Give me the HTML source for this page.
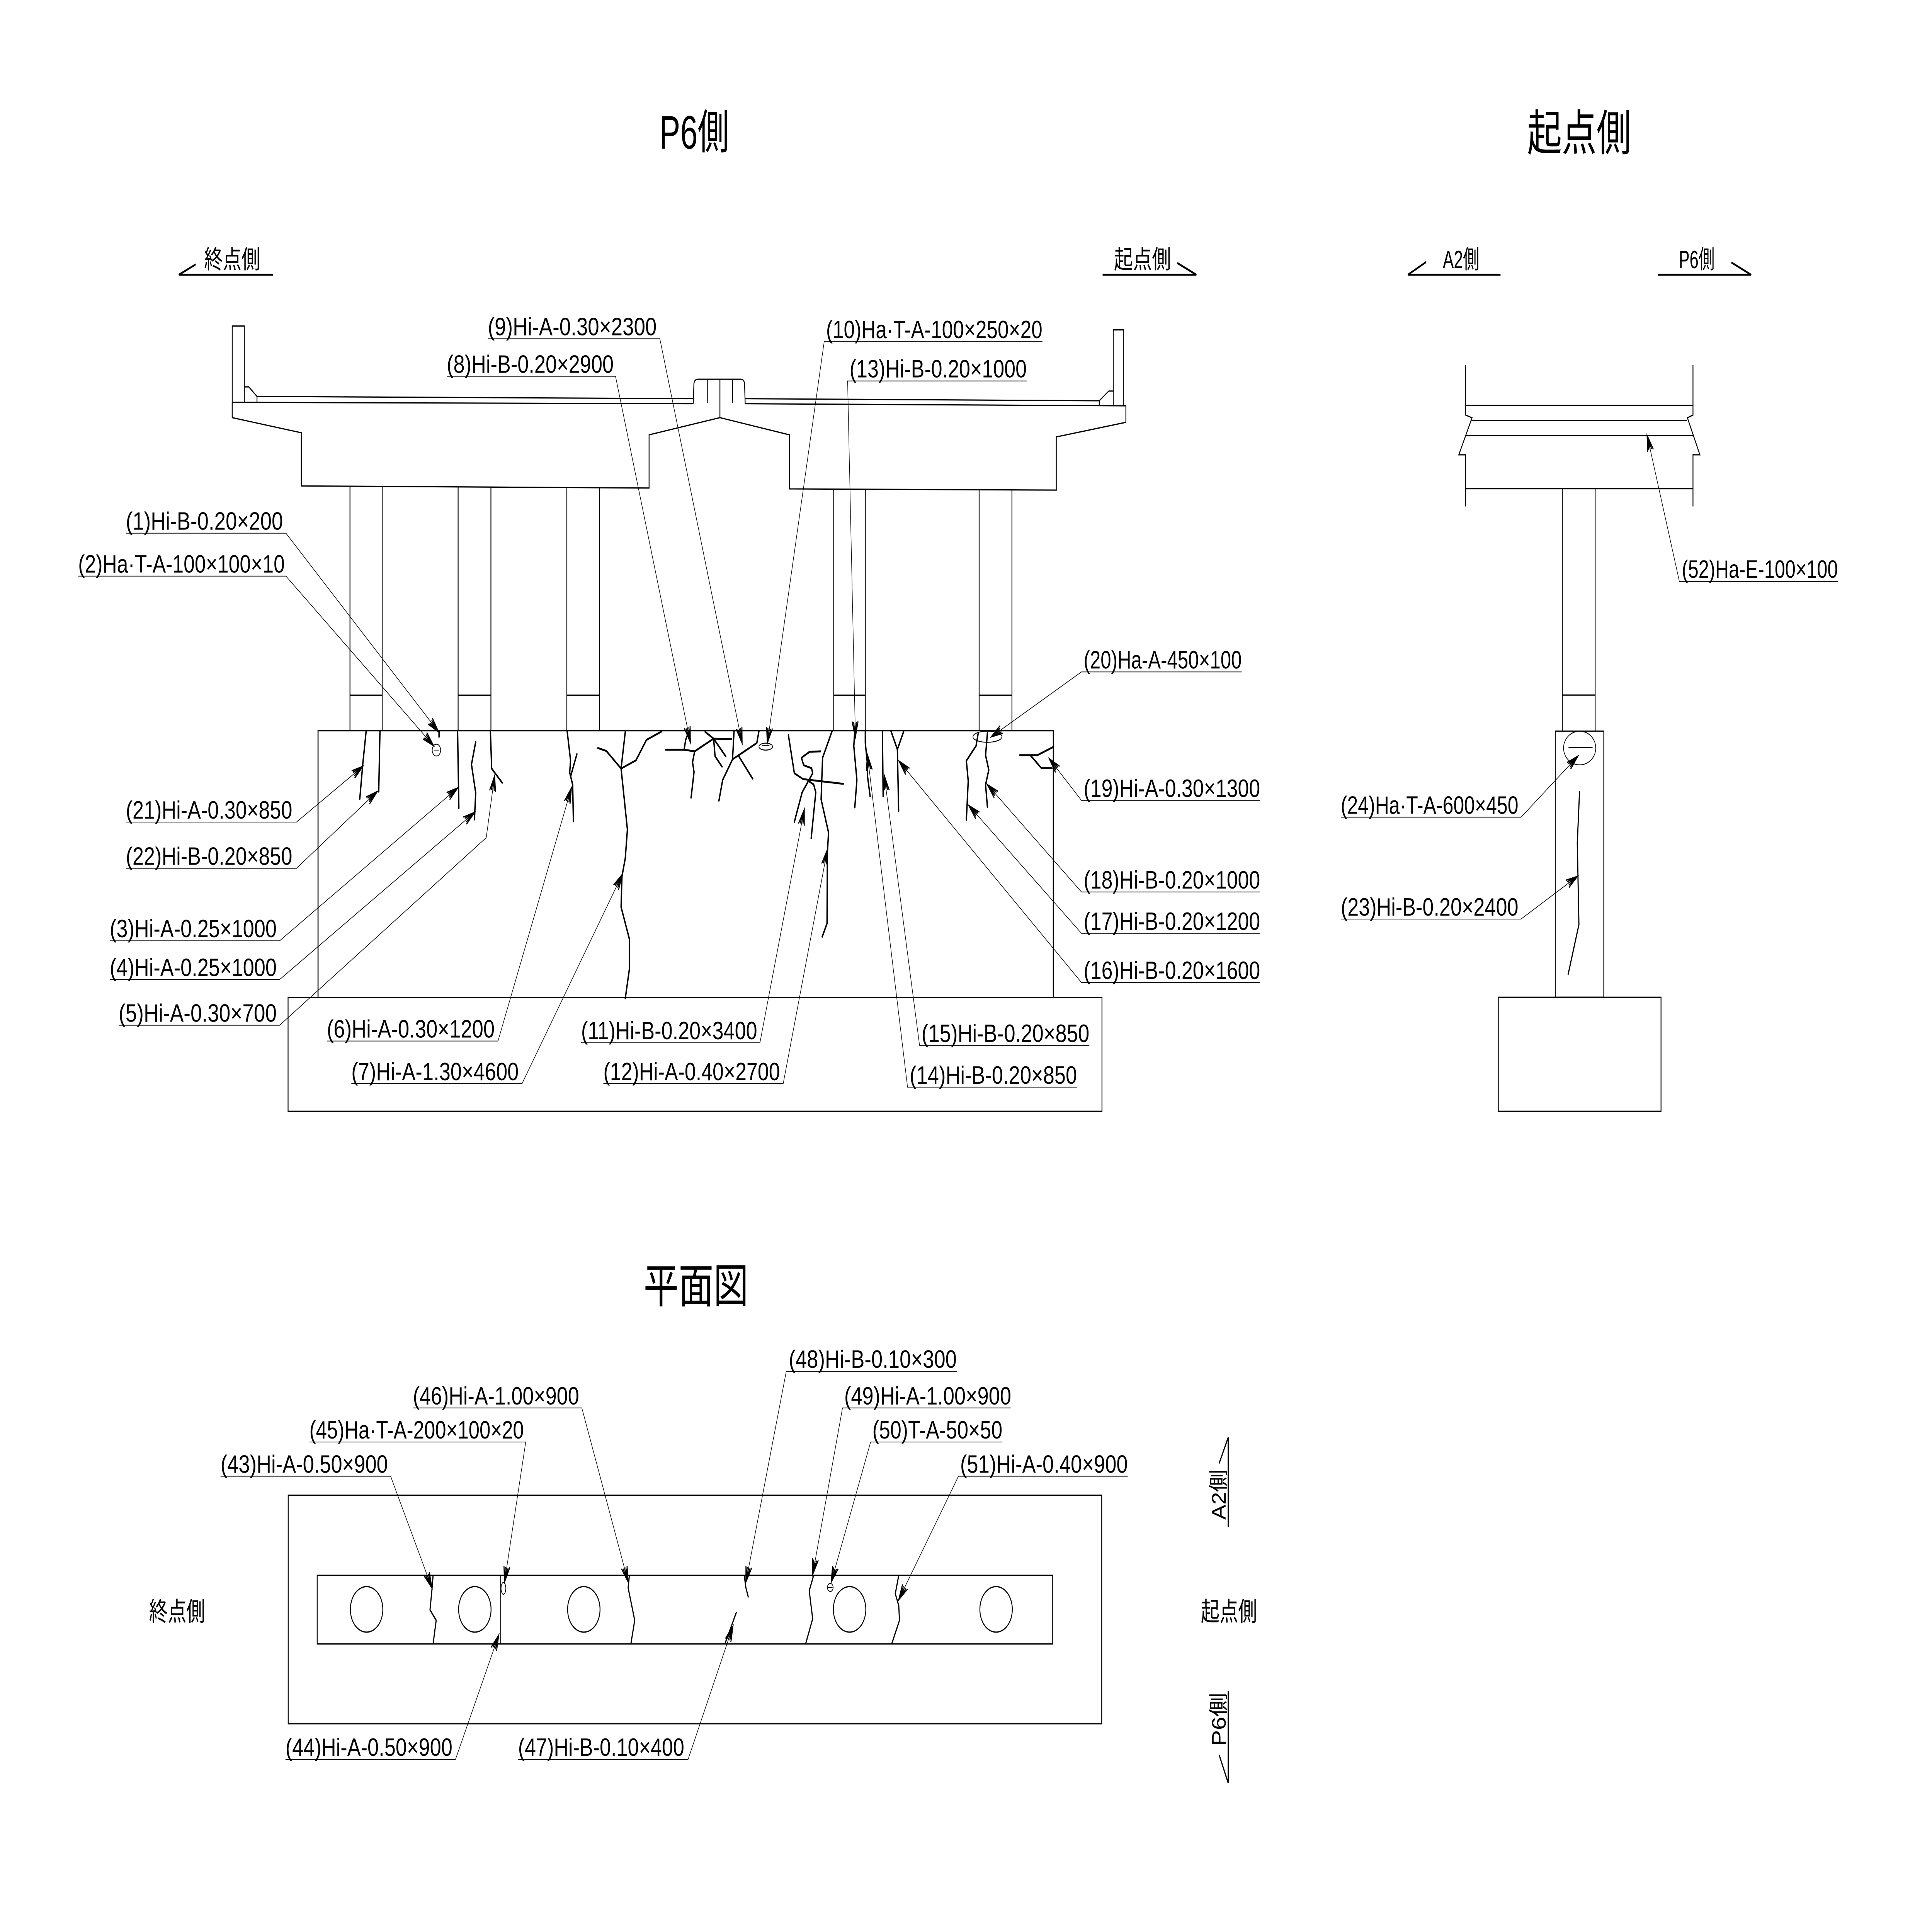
<!DOCTYPE html>
<html><head><meta charset="utf-8"><style>
html,body{margin:0;padding:0;background:#fff;width:100%;height:100%;overflow:hidden;}
svg{position:absolute;left:0;top:0;width:100vw;height:100vh;display:block;}
text{font-family:"Liberation Sans","Noto Sans CJK JP",sans-serif;fill:#000;}
.lb{font-size:14.5px;}
.o{fill:none;stroke:#000;stroke-width:0.7;stroke-linejoin:miter;}
.c{fill:none;stroke:#000;stroke-width:1.1;stroke-linejoin:round;stroke-linecap:round;}
.cp{fill:none;stroke:#000;stroke-width:0.9;stroke-linejoin:round;}
.l{fill:none;stroke:#000;stroke-width:0.42;}
.d{fill:none;stroke:#000;stroke-width:1.1;}
</style></head><body>
<svg xmlns="http://www.w3.org/2000/svg" width="100%" height="100%" viewBox="0 0 1560 1103" preserveAspectRatio="none">
<defs>
<marker id="a" markerUnits="userSpaceOnUse" markerWidth="12" markerHeight="8" refX="10" refY="4" orient="auto" viewBox="0 0 12 8">
<path d="M1,1.6 L10,4 L1,6.4 M2,4 L10,4 M1.5,2.8 L10,4 L1.5,5.2" fill="none" stroke="#000" stroke-width="0.8"/>
</marker>
</defs>
<rect x="0" y="0" width="1560" height="1103" fill="#fff"/>

<!-- Titles -->
<text x="532.4" y="85.5" font-size="27" textLength="56.2" lengthAdjust="spacingAndGlyphs">P6側</text>
<text x="1233.1" y="86.5" font-size="28" textLength="84" lengthAdjust="spacingAndGlyphs">起点側</text>
<text x="519.7" y="749.5" font-size="27" textLength="84.6" lengthAdjust="spacingAndGlyphs">平面図</text>

<!-- Direction labels top -->
<text x="164.8" y="154.3" font-size="14.5" textLength="45.3" lengthAdjust="spacingAndGlyphs">終点側</text>
<polyline class="d" points="158,152.1 144.4,158.1 220.3,158.1"/>
<text x="899.5" y="154.3" font-size="14.5" textLength="46" lengthAdjust="spacingAndGlyphs">起点側</text>
<polyline class="d" points="890.3,158.1 966,158.1 950.6,151.3"/>
<text x="1165" y="154.3" font-size="14.5" textLength="29.6" lengthAdjust="spacingAndGlyphs">A2側</text>
<polyline class="d" points="1151.4,150.8 1136.8,158.1 1211.6,158.1"/>
<text x="1355.6" y="154.3" font-size="14.5" textLength="28.9" lengthAdjust="spacingAndGlyphs">P6側</text>
<polyline class="d" points="1338.6,158.1 1414,158.1 1398,151"/>

<!-- ===== Elevation: deck ===== -->
<polyline class="o" points="187.5,240.3 187.5,187.6 197.3,187.6 197.3,222.6 200.9,222.6 207.5,228.1 207.5,231.5"/>
<line class="o" x1="197.3" y1="222.6" x2="197.3" y2="231.5"/>
<line class="o" x1="207.5" y1="228.1" x2="559.8" y2="229.4"/>
<line class="o" x1="187.5" y1="231.5" x2="559.8" y2="232.3"/>
<line class="o" x1="601.7" y1="229.4" x2="887.6" y2="230.6"/>
<line class="o" x1="601.7" y1="232.3" x2="909.1" y2="233.5"/>
<polyline class="o" points="887.6,233.2 887.6,230.6 895.3,225 898.9,225 898.9,189.8 907,189.8 907,233.5"/>
<line class="o" x1="898.9" y1="225" x2="898.9" y2="233.2"/>
<polyline class="o" points="187.5,240.3 243.3,249 243.3,279.6 524.1,280.8 524.1,250.2 581.3,240.3 637.4,250.2 637.4,281.3 852.9,282 852.9,251.4 909.1,243 909.1,233.5"/>
<line class="o" x1="187.5" y1="240.3" x2="187.5" y2="231.5"/>
<path class="o" d="M559.8,232.3 L560.3,220.8 Q560.8,218.2 563.6,218.2 L598,218.2 Q600.8,218.2 601.2,220.8 L601.7,232.3"/>
<line class="o" x1="571.1" y1="218.4" x2="571.1" y2="232"/>
<line class="o" x1="591.5" y1="218.4" x2="591.5" y2="232"/>
<line class="o" x1="581.3" y1="218.4" x2="581.3" y2="240.3"/>

<!-- columns -->
<g class="o">
<line x1="282.6" y1="279.8" x2="282.6" y2="420.4"/><line x1="308.6" y1="279.9" x2="308.6" y2="420.4"/><line x1="282.6" y1="400" x2="308.6" y2="400"/>
<line x1="369.9" y1="280.1" x2="369.9" y2="420.4"/><line x1="396.4" y1="280.2" x2="396.4" y2="420.4"/><line x1="369.9" y1="400" x2="396.4" y2="400"/>
<line x1="457.7" y1="280.4" x2="457.7" y2="420.4"/><line x1="484.2" y1="280.5" x2="484.2" y2="420.4"/><line x1="457.7" y1="400" x2="484.2" y2="400"/>
<line x1="673.2" y1="281.5" x2="673.2" y2="420.4"/><line x1="698.7" y1="281.6" x2="698.7" y2="420.4"/><line x1="673.2" y1="400" x2="698.7" y2="400"/>
<line x1="790.6" y1="281.8" x2="790.6" y2="420.4"/><line x1="817.1" y1="281.9" x2="817.1" y2="420.4"/><line x1="790.6" y1="400" x2="817.1" y2="400"/>
</g>

<!-- footing -->
<rect class="o" x="256.8" y="420.4" width="593.7" height="153.5" style="stroke-width:0.8"/>
<rect class="o" x="232.6" y="573.9" width="657.2" height="65.5"/>

<!-- cracks elevation -->
<g class="c">
<polyline points="295.6,421 292.9,439.8 290.5,459.7"/>
<polyline points="306.8,421 305.8,455.5"/>
<polyline points="354.5,420.4 354.5,424"/>
<polyline points="369.5,421 370.5,465"/>
<polyline points="384.1,426.9 380.7,439.8 384.1,456.2 383.1,471.5"/>
<polyline points="396,421 397,442.2 405.5,450.4"/>
<polyline points="458,421 460.7,437.5 460,444.5 462.4,451.5 463,472.6"/>
<polyline points="465.8,433.9 460.7,446.8"/>
<polyline points="504.9,421 501.5,442.2 504.9,465.6 506.6,477.3 504.9,493.7 502.2,504.3 501.5,521.9 508.3,540.6 508.3,557.1 504.9,574.4"/>
<polyline points="482.8,430.4 489.6,432.1 501.5,442.2 513.5,437.5 522,425.7 533.9,421"/>
<polyline points="558,459 560.4,444.2 559.2,438.6 560.9,432.3"/>
<polyline points="537.6,431.4 552.4,431.4 560.9,432.3 576.2,425"/>
<polyline points="552.4,431.4 553.6,425.8 555.8,421.6"/>
<polyline points="569.4,421.1 576.2,425 590.7,425.3"/>
<polyline points="576.2,425 586,435.2"/>
<polyline points="576.2,425 577.4,435.2 583,441.1"/>
<polyline points="580.5,460.7 583.5,448.8 591.5,436.9 592.7,420.7"/>
<polyline points="591.5,436.9 611.1,427.5 612.8,420.7"/>
<polyline points="596.6,435.2 607.7,448"/>
<polyline points="636.6,423 641.4,444.9 648.5,448.3 680.9,451"/>
<polyline points="662.5,432.3 653.6,432.6 647.2,436 648.9,440.3 655.3,442 656.2,444.9 652.8,449.3 647.7,455.9 641.4,472.9"/>
<polyline points="652.8,449.3 657,451.4 658.7,455.9 655,482.3"/>
<polyline points="672,420.4 664.2,436 663,459.9 669,479 668.1,490.5 667.8,531.3 663.9,539"/>
<polyline points="690.2,420.4 689.4,429.2 691.9,448.8 690.2,464.6"/>
<polyline points="698.7,420.4 698.7,427.5 700.4,439.4 700.4,446.2 702.6,458.2"/>
<polyline points="712.5,420.4 713.1,458.2"/>
<polyline points="719.4,420.6 724.6,431.2 729.6,421"/>
<polyline points="724.6,431.2 725.6,466.6"/>
<polyline points="789.9,421.7 788.1,429.2 780.3,437.7 781.8,449.4 780.3,471.7"/>
<polyline points="797.3,421.7 795.8,434.5 798.4,443 795.8,451.5 797.3,464.3"/>
<polyline points="823.5,434.5 837.7,434.5 850.5,429.8"/>
<polyline points="832.4,434.9 840.9,442 849.4,442"/>
</g>
<ellipse class="l" cx="352.4" cy="431.6" rx="3.4" ry="3.4" style="stroke-width:0.5"/>
<line class="l" x1="350.5" y1="431.6" x2="354.3" y2="431.6"/>
<ellipse class="l" cx="618.3" cy="429.6" rx="5.5" ry="2" style="stroke-width:0.55"/>
<line class="l" x1="615.4" y1="429" x2="621.3" y2="429"/>
<ellipse class="l" cx="797.3" cy="423.9" rx="11.7" ry="3.2" style="stroke-width:0.5"/>

<!-- leaders elevation -->
<g class="l" marker-end="url(#a)">
<polyline points="101.6,306.8 230.9,306.8 354,421"/>
<polyline points="63.1,331.5 230.9,331.5 350,429"/>
<polyline points="101.6,473 239.4,473 292.9,441"/>
<polyline points="101.6,499.6 239.4,499.6 304.5,455.5"/>
<polyline points="88.6,541.3 225.8,541.3 369.5,453.4"/>
<polyline points="88.6,563.6 225.8,563.6 383.1,467.5"/>
<polyline points="95.8,589.9 225.8,589.9 392.6,482 399.4,446.4"/>
<polyline points="263.9,599 402.1,599 461.4,453.4"/>
<polyline points="283.7,623.5 421.5,623.5 502.5,503.1"/>
<polyline points="469.2,600 613.6,600 649.4,465.8"/>
<polyline points="487.2,623.5 632.4,623.5 668.1,488.8"/>
<polyline points="360.7,216.5 497,216.5 557.4,427"/>
<polyline points="393.9,194.9 532.8,194.9 599.2,427.5"/>
<polyline points="841.7,196.6 665.5,196.6 619.6,427.5"/>
<polyline points="829,219.2 684.4,219.2 690.7,424.1"/>
<polyline points="869.6,625.5 732.8,625.5 700.4,434.3"/>
<polyline points="879.6,601.5 742.5,601.5 714,446.2"/>
<polyline points="1017.5,565.3 873.2,565.3 726,438"/>
<polyline points="1017.5,537 873.2,537 782.3,463.5"/>
<polyline points="1017.5,513.2 873.2,513.2 797.3,451.5"/>
<polyline points="1017.5,460.5 873.2,460.5 847.3,436.6"/>
<polyline points="1002.6,386.6 873.2,386.6 800.5,423.9"/>
</g>

<g class="lb">
<text x="101.6" y="304.8" textLength="126.9" lengthAdjust="spacingAndGlyphs">(1)Hi-B-0.20×200</text>
<text x="63.1" y="329.5" textLength="166.8" lengthAdjust="spacingAndGlyphs">(2)Ha·T-A-100×100×10</text>
<text x="101.6" y="471" textLength="134.4" lengthAdjust="spacingAndGlyphs">(21)Hi-A-0.30×850</text>
<text x="101.6" y="497.6" textLength="134.4" lengthAdjust="spacingAndGlyphs">(22)Hi-B-0.20×850</text>
<text x="88.6" y="539.3" textLength="134.8" lengthAdjust="spacingAndGlyphs">(3)Hi-A-0.25×1000</text>
<text x="88.6" y="561.6" textLength="134.8" lengthAdjust="spacingAndGlyphs">(4)Hi-A-0.25×1000</text>
<text x="95.8" y="587.9" textLength="127.6" lengthAdjust="spacingAndGlyphs">(5)Hi-A-0.30×700</text>
<text x="263.9" y="597" textLength="135.5" lengthAdjust="spacingAndGlyphs">(6)Hi-A-0.30×1200</text>
<text x="283.7" y="621.5" textLength="135.1" lengthAdjust="spacingAndGlyphs">(7)Hi-A-1.30×4600</text>
<text x="469.2" y="598" textLength="142.2" lengthAdjust="spacingAndGlyphs">(11)Hi-B-0.20×3400</text>
<text x="487.2" y="621.5" textLength="142.6" lengthAdjust="spacingAndGlyphs">(12)Hi-A-0.40×2700</text>
<text x="360.7" y="214.5" textLength="134.8" lengthAdjust="spacingAndGlyphs">(8)Hi-B-0.20×2900</text>
<text x="393.9" y="192.9" textLength="136.3" lengthAdjust="spacingAndGlyphs">(9)Hi-A-0.30×2300</text>
<text x="667" y="194.6" textLength="174.7" lengthAdjust="spacingAndGlyphs">(10)Ha·T-A-100×250×20</text>
<text x="686" y="217.2" textLength="143" lengthAdjust="spacingAndGlyphs">(13)Hi-B-0.20×1000</text>
<text x="734.5" y="623.5" textLength="135.1" lengthAdjust="spacingAndGlyphs">(14)Hi-B-0.20×850</text>
<text x="744.1" y="599.5" textLength="135.5" lengthAdjust="spacingAndGlyphs">(15)Hi-B-0.20×850</text>
<text x="875" y="563.3" textLength="142.5" lengthAdjust="spacingAndGlyphs">(16)Hi-B-0.20×1600</text>
<text x="875" y="535" textLength="142.5" lengthAdjust="spacingAndGlyphs">(17)Hi-B-0.20×1200</text>
<text x="875" y="511.2" textLength="142.5" lengthAdjust="spacingAndGlyphs">(18)Hi-B-0.20×1000</text>
<text x="875" y="458.5" textLength="142.5" lengthAdjust="spacingAndGlyphs">(19)Hi-A-0.30×1300</text>
<text x="875" y="384.6" textLength="127.6" lengthAdjust="spacingAndGlyphs">(20)Ha-A-450×100</text>
</g>

<!-- ===== Side view ===== -->
<g class="o">
<polyline points="1183.4,210 1183.4,238.8 1188.6,240.4 1177.9,261.7 1183.4,261.7 1183.4,291.4"/>
<polyline points="1367,210 1367,238.8 1362.5,240.4 1372.6,261.7 1367,261.7 1367,291.4"/>
<line x1="1183.4" y1="233.3" x2="1367" y2="233.3"/>
<line x1="1188.2" y1="242" x2="1362.3" y2="242"/>
<line x1="1183.5" y1="250.6" x2="1366.9" y2="250.6"/>
<line x1="1183.4" y1="281.2" x2="1367" y2="281.2"/>
<line x1="1261.5" y1="281.2" x2="1261.5" y2="420.7"/>
<line x1="1288" y1="281.2" x2="1288" y2="420.7"/>
<line x1="1261.5" y1="399.9" x2="1288" y2="399.9"/>
<rect x="1255.8" y="420.7" width="39.2" height="153.1"/>
<rect x="1209.8" y="573.8" width="131.4" height="65.6"/>
</g>
<ellipse class="l" cx="1275.5" cy="430.4" rx="13" ry="9.7" style="stroke-width:0.5"/>
<line class="l" x1="1266.5" y1="430" x2="1285.9" y2="430" style="stroke-width:0.6"/>
<polyline class="c" points="1275.4,455.5 1273.6,485 1274.9,532 1266.2,560.6" style="stroke-width:0.9"/>
<g class="l" marker-end="url(#a)">
<polyline points="1484,334.5 1356,334.5 1330,250.6"/>
<polyline points="1082.6,470.2 1228.2,470.2 1273.9,435.2"/>
<polyline points="1082.6,528.8 1228.2,528.8 1273.6,504.3"/>
</g>
<g class="lb">
<text x="1358" y="332.5" textLength="126" lengthAdjust="spacingAndGlyphs">(52)Ha-E-100×100</text>
<text x="1082.6" y="468.2" textLength="143.4" lengthAdjust="spacingAndGlyphs">(24)Ha·T-A-600×450</text>
<text x="1082.6" y="526.8" textLength="143.4" lengthAdjust="spacingAndGlyphs">(23)Hi-B-0.20×2400</text>
</g>

<!-- ===== Plan ===== -->
<rect class="o" x="232.7" y="860.3" width="656.9" height="131.5"/>
<rect class="o" x="256.1" y="906.4" width="593.9" height="39.5"/>
<line class="o" x1="404.3" y1="906.4" x2="404.3" y2="945.9"/>
<g class="o">
<circle cx="296" cy="926" r="13.1"/>
<circle cx="383.4" cy="926" r="13.1"/>
<circle cx="471.4" cy="926" r="13.1"/>
<circle cx="686" cy="926" r="13.1"/>
<circle cx="804.3" cy="926" r="13.1"/>
</g>
<g class="cp">
<polyline points="349.7,906.4 348.7,915.3 347.2,926.3 352.2,932.3 349.7,945.9"/>
<polyline points="508.2,906.4 507.2,913.6 512.5,932.3 509.4,945.9"/>
<polyline points="600.9,906.4 602.3,913.6 604.3,919.2"/>
<polyline points="594.7,927.5 585.3,945.9"/>
<polyline points="657,906.4 653.4,915.3 656.2,931.4 650.5,945.9"/>
<polyline points="725.7,906.4 722.9,917 725.7,923.8 726.3,932.3 720,945.9"/>
</g>
<ellipse class="l" cx="406.5" cy="913.9" rx="1.9" ry="3.4" style="stroke-width:0.5"/>
<circle class="l" cx="670.4" cy="913.4" r="2.3" style="stroke-width:0.5"/>
<line class="l" x1="668.5" y1="913.4" x2="672.3" y2="913.4"/>
<g class="l" marker-end="url(#a)">
<polyline points="178.1,849.4 315.4,849.4 348.7,913.6"/>
<polyline points="230.5,1012.3 367.8,1012.3 402.7,940.8"/>
<polyline points="249.8,829.7 424.5,829.7 407.4,910.2"/>
<polyline points="333.4,810.1 469.8,810.1 507.2,910.2"/>
<polyline points="418.3,1012.3 555.6,1012.3 591.8,935.7"/>
<polyline points="772.5,789 634.9,789 602.3,910.2"/>
<polyline points="816.5,810.1 680.3,810.1 656.2,905.9"/>
<polyline points="809.4,829.7 703,829.7 671.2,910.2"/>
<polyline points="910.6,849.4 773.9,849.4 725.7,920.4"/>
</g>
<g class="lb">
<text x="178.1" y="847.4" textLength="135.1" lengthAdjust="spacingAndGlyphs">(43)Hi-A-0.50×900</text>
<text x="230.5" y="1010.3" textLength="134.8" lengthAdjust="spacingAndGlyphs">(44)Hi-A-0.50×900</text>
<text x="249.8" y="827.7" textLength="173.2" lengthAdjust="spacingAndGlyphs">(45)Ha·T-A-200×100×20</text>
<text x="333.4" y="808.1" textLength="134.2" lengthAdjust="spacingAndGlyphs">(46)Hi-A-1.00×900</text>
<text x="418.3" y="1010.3" textLength="134.2" lengthAdjust="spacingAndGlyphs">(47)Hi-B-0.10×400</text>
<text x="636.9" y="787" textLength="135.6" lengthAdjust="spacingAndGlyphs">(48)Hi-B-0.10×300</text>
<text x="681.7" y="808.1" textLength="134.8" lengthAdjust="spacingAndGlyphs">(49)Hi-A-1.00×900</text>
<text x="704.4" y="827.7" textLength="105" lengthAdjust="spacingAndGlyphs">(50)T-A-50×50</text>
<text x="775.3" y="847.4" textLength="135.3" lengthAdjust="spacingAndGlyphs">(51)Hi-A-0.40×900</text>
</g>
<text x="120.3" y="932.5" font-size="15" textLength="45.3" lengthAdjust="spacingAndGlyphs">終点側</text>
<text x="969.6" y="932.5" font-size="15" textLength="45.4" lengthAdjust="spacingAndGlyphs">起点側</text>
<text transform="translate(989.6,874.4) rotate(-90)" x="0" y="0" font-size="16" textLength="28.9" lengthAdjust="spacingAndGlyphs">A2側</text>
<polyline class="d" points="984.4,842 991.7,827.1 991.7,878.7" style="stroke-width:0.9"/>
<text transform="translate(989.6,1004.6) rotate(-90)" x="0" y="0" font-size="16" textLength="30.6" lengthAdjust="spacingAndGlyphs">P6側</text>
<polyline class="d" points="991.7,973.1 991.7,1025.9 984.4,1009.7" style="stroke-width:0.9"/>
</svg>
</body></html>
